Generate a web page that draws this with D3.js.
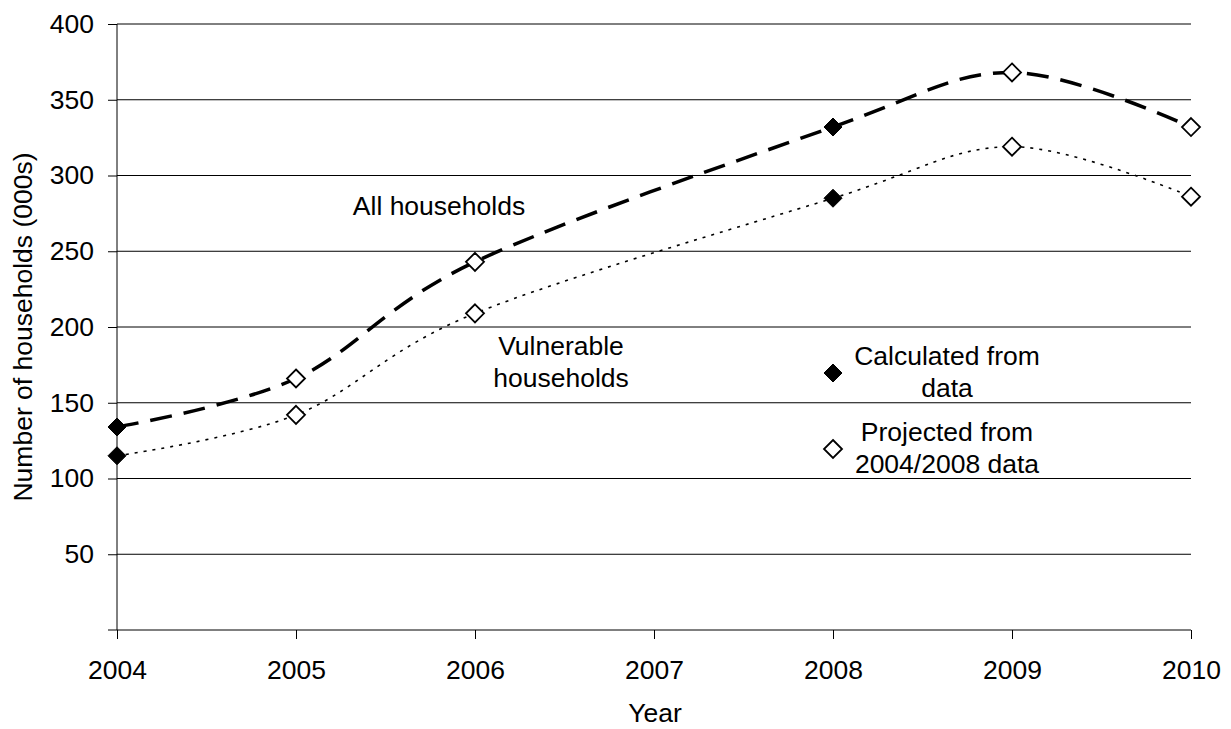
<!DOCTYPE html>
<html>
<head>
<meta charset="utf-8">
<script src="https://cdn.jsdelivr.net/npm/d3@7"></script>
<style>
  body { margin: 0; background: #fff; }
  text { font-family: "Liberation Sans", Arial, sans-serif; fill: #000; }
</style>
</head>
<body>
<svg id="chart" width="1231" height="729"></svg>
<script>
const years = [2004, 2005, 2006, 2007, 2008, 2009, 2010];
const allYears = [2004, 2005, 2006, 2008, 2009, 2010];
const allValues = [134, 166, 243, 332, 368, 332];
const vulnYears = [2004, 2005, 2006, 2008, 2009, 2010];
const vulnValues = [115, 142, 209, 285, 319, 286];
const calculatedYears = [2004, 2008];
const yTicks = [50, 100, 150, 200, 250, 300, 350, 400];

const fontSize = "26.5px";
const svg = d3.select("#chart");
const margin = { top: 24, right: 40, bottom: 99, left: 117 };
const width = +svg.attr("width");
const height = +svg.attr("height");

const xScale = d3.scaleLinear()
  .domain([2004, 2010])
  .range([margin.left, width - margin.right]);
const yScale = d3.scaleLinear()
  .domain([0, 400])
  .range([height - margin.bottom, margin.top]);

// gridlines
svg.append("g")
  .selectAll("line")
  .data(yTicks)
  .enter().append("line")
  .attr("x1", xScale(2004))
  .attr("x2", xScale(2010))
  .attr("y1", d => yScale(d))
  .attr("y2", d => yScale(d))
  .attr("stroke", "#000")
  .attr("stroke-width", 1);

const yAxis = d3.axisLeft(yScale).tickValues(yTicks).tickSize(9).tickPadding(14);
svg.append("g")
  .attr("transform", "translate(" + margin.left + ",0)")
  .call(yAxis)
  .call(g => g.select(".domain").attr("d", "M-9," + yScale(0) + "H0V" + yScale(400)));

const xAxis = d3.axisBottom(xScale).tickValues(years).tickFormat(d3.format("d")).tickSize(9).tickPadding(21);
svg.append("g")
  .attr("transform", "translate(0," + yScale(0) + ")")
  .call(xAxis)
  .call(g => g.select(".domain").attr("d", "M" + xScale(2004) + ",0H" + xScale(2010)));

svg.selectAll(".tick text").style("font-size", fontSize).style("font-family", "Liberation Sans, Arial, sans-serif");
svg.selectAll(".tick line, .domain").attr("stroke", "#000");

// axis titles
svg.append("text")
  .attr("x", 655)
  .attr("y", 722)
  .attr("text-anchor", "middle")
  .style("font-size", fontSize)
  .text("Year");

svg.append("text")
  .attr("transform", "translate(32," + yScale(200) + ") rotate(-90)")
  .attr("text-anchor", "middle")
  .style("font-size", fontSize)
  .text("Number of households (000s)");

// lines
const line = d3.line()
  .x(d => xScale(d[0]))
  .y(d => yScale(d[1]))
  .curve(d3.curveCatmullRom.alpha(0));

const allData = allYears.map((y, i) => [y, allValues[i]]);
const vulnData = vulnYears.map((y, i) => [y, vulnValues[i]]);

svg.append("path")
  .datum(allData)
  .attr("d", line)
  .attr("fill", "none")
  .attr("stroke", "#000")
  .attr("stroke-width", 3.5)
  .attr("stroke-dasharray", "22,12");

svg.append("path")
  .datum(vulnData)
  .attr("d", line)
  .attr("fill", "none")
  .attr("stroke", "#000")
  .attr("stroke-width", 1.6)
  .attr("stroke-dasharray", "3,6");

// markers
function diamond(sel, filled) {
  sel.attr("d", "M0,-9L9,0L0,9L-9,0Z")
    .attr("fill", filled ? "#000" : "#fff")
    .attr("stroke", "#000")
    .attr("stroke-width", filled ? 1 : 1.8);
}

[allData, vulnData].forEach(data => {
  svg.append("g")
    .selectAll("path")
    .data(data)
    .enter().append("path")
    .attr("transform", d => "translate(" + xScale(d[0]) + "," + yScale(d[1]) + ")")
    .each(function (d) {
      diamond(d3.select(this), calculatedYears.includes(d[0]));
    });
});

// labels
svg.append("text")
  .attr("x", 439).attr("y", 215)
  .attr("text-anchor", "middle")
  .style("font-size", fontSize)
  .text("All households");

const vuln = svg.append("text")
  .attr("text-anchor", "middle")
  .style("font-size", fontSize);
vuln.append("tspan").attr("x", 561).attr("y", 355).text("Vulnerable");
vuln.append("tspan").attr("x", 561).attr("y", 387).text("households");

// legend
const legendItems = [
  { filled: true, y: 373, lines: ["Calculated from", "data"] },
  { filled: false, y: 449, lines: ["Projected from", "2004/2008 data"] }
];
legendItems.forEach(item => {
  svg.append("path")
    .attr("transform", "translate(833," + item.y + ")")
    .call(diamond, item.filled);
  const t = svg.append("text").attr("text-anchor", "middle").style("font-size", fontSize);
  item.lines.forEach((l, i) => {
    t.append("tspan").attr("x", 947).attr("y", item.y - 8 + i * 32).text(l);
  });
});
</script>
</body>
</html>
